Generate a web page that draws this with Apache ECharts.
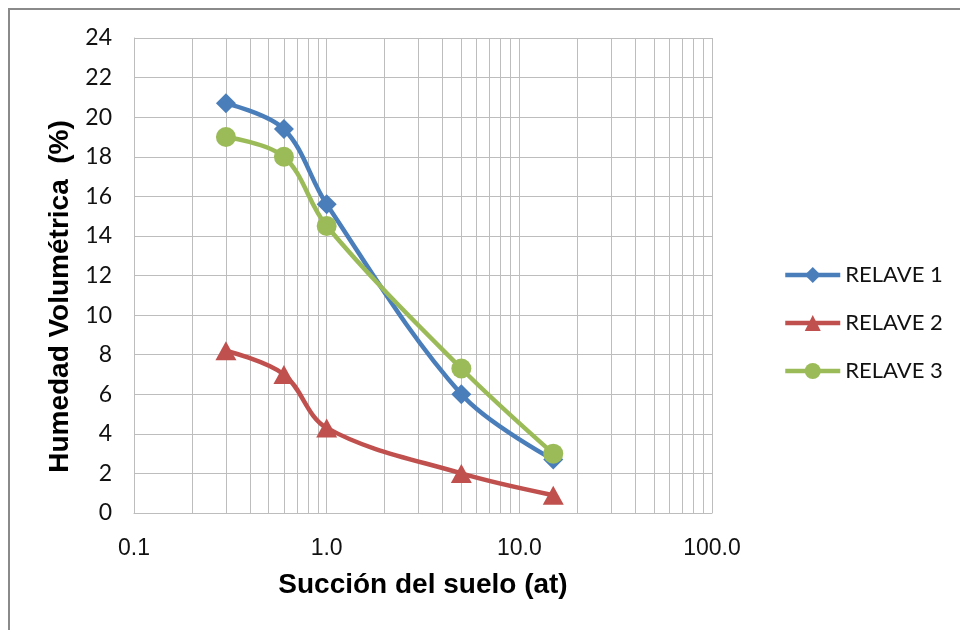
<!DOCTYPE html>
<html>
<head>
<meta charset="utf-8">
<script src="https://cdn.jsdelivr.net/npm/echarts@6/dist/echarts.min.js"></script>
<style>
  html, body { margin: 0; padding: 0; background: #ffffff; }
  #chart { width: 960px; height: 630px; }
</style>
</head>
<body>
<div id="chart"></div>
<script>
// Soil suction (at) and volumetric moisture (%) for three tailings samples
const suction = [0.3, 0.6, 1.0, 5.0, 15.0];
const relave1 = [20.7, 19.4, 15.6, 6.0, 2.7];
const relave2 = [8.2, 7.0, 4.3, 2.0, 0.9];
const relave3 = [19.0, 18.0, 14.5, 7.3, 3.0];
const seriesNames = ['RELAVE 1', 'RELAVE 2', 'RELAVE 3'];

// Intermediate log-decade grid positions (2..9 in each decade)
const minorGridX = [0.2, 0.3, 0.4, 0.5, 0.6, 0.7, 0.8, 0.9,
                    2, 3, 4, 5, 6, 7, 8, 9,
                    20, 30, 40, 50, 60, 70, 80, 90];

const gridColor = '#bdbdbd';
const colors = ['#4a7ebb', '#c0504d', '#9bbb59'];
const symbols = ['diamond', 'triangle', 'circle'];
const symbolSizes = [20, [21, 19], 20];
const values = [relave1, relave2, relave3];

const chart = echarts.init(document.getElementById('chart'), null, { renderer: 'canvas' });

const dataSeries = seriesNames.map((name, i) => ({
  name: name,
  type: 'line',
  data: suction.map((x, j) => [x, values[i][j]]),
  smooth: 0.35,
  symbol: symbols[i],
  symbolSize: symbolSizes[i],
  showSymbol: true,
  z: 3,
  lineStyle: { color: colors[i], width: 4.5 },
  itemStyle: { color: colors[i] },
  emphasis: { disabled: true }
}));

const option = {
  animation: false,
  backgroundColor: '#ffffff',
  graphic: [{
    type: 'rect',
    shape: { x: 9, y: 9, width: 1000, height: 1000 },
    style: { fill: 'none', stroke: '#8a8a8a', lineWidth: 2 },
    silent: true
  }],
  grid: { left: 134, right: 248, top: 38, bottom: 117 },
  legend: {
    orient: 'vertical',
    left: 783,
    top: 264,
    padding: 0,
    data: seriesNames,
    itemWidth: 55,
    itemHeight: 20,
    itemGap: 26,
    lineStyle: { width: 4.5 },
    textStyle: { fontFamily: 'Lato', fontSize: 22, color: '#111', lineHeight: 22 }
  },
  xAxis: {
    type: 'log',
    logBase: 10,
    min: 0.1,
    max: 100,
    name: 'Succión del suelo (at)',
    nameLocation: 'middle',
    nameGap: 58,
    nameTextStyle: { fontFamily: 'Liberation Sans', fontWeight: 'bold', fontSize: 28, color: '#000' },
    axisLine: { show: true, lineStyle: { color: gridColor, width: 1 } },
    axisTick: { show: false },
    axisLabel: {
      margin: 24,
      fontFamily: 'Liberation Sans',
      fontSize: 23,
      color: '#111',
      formatter: v => Number(v).toFixed(1)
    },
    splitLine: { show: true, lineStyle: { color: gridColor, width: 1 } },
    minorSplitLine: { show: false }
  },
  yAxis: {
    type: 'value',
    min: 0,
    max: 24,
    interval: 2,
    name: 'Humedad Volumétrica  (%)',
    nameLocation: 'middle',
    nameGap: 60,
    nameTextStyle: { fontFamily: 'Liberation Sans', fontWeight: 'bold', fontSize: 28, color: '#000', padding: [0, 42, 0, 0] },
    axisLine: { show: true, lineStyle: { color: gridColor, width: 1 } },
    axisTick: { show: false },
    axisLabel: { margin: 22, fontFamily: 'Lato', fontSize: 23, color: '#111' },
    splitLine: { show: true, lineStyle: { color: gridColor, width: 1 } }
  },
  series: [
    {
      name: 'grid-minor',
      type: 'line',
      data: [],
      silent: true,
      z: 1,
      markLine: {
        silent: true,
        z: 1,
        symbol: ['none', 'none'],
        label: { show: false },
        emphasis: { disabled: true },
        lineStyle: { color: gridColor, width: 1, type: 'solid' },
        data: minorGridX.map(v => ({ xAxis: v }))
      }
    }
  ].concat(dataSeries)
};

chart.setOption(option);
</script>
</body>
</html>
